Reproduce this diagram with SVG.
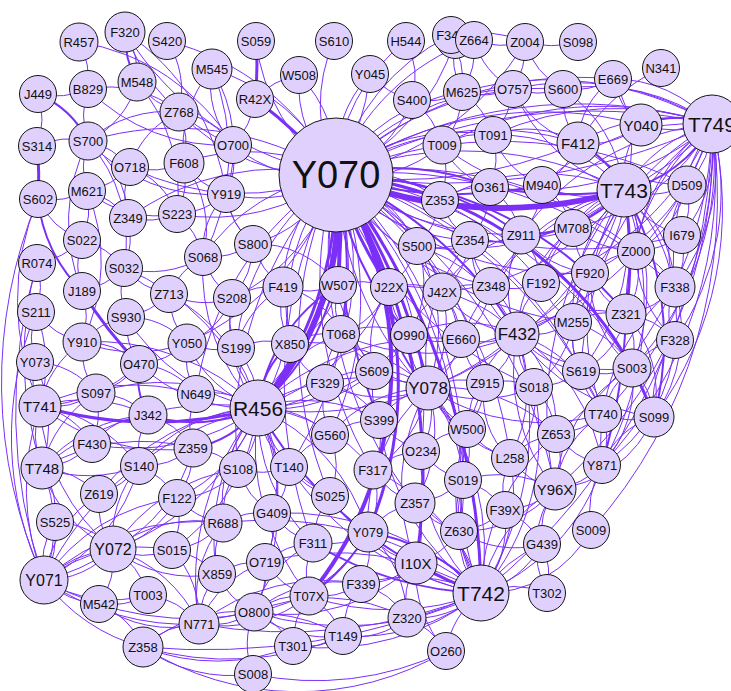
<svg xmlns="http://www.w3.org/2000/svg" width="731" height="691" viewBox="0 0 731 691">
<style>
#edges path{fill:none;stroke:#7B2FF7;stroke-width:1}
#edges .w2{stroke-width:2}
#edges .w3{stroke-width:3}
#edges .w4{stroke-width:4}
#edges .w6{stroke-width:6}
.node circle{fill:#E0D0FE;stroke:#151515;stroke-width:1}
.node text{font-family:"Liberation Sans",Arial,sans-serif;font-size:13px;text-anchor:middle;fill:#111}
.node.m text{font-size:15px}
.node.b text{font-size:17px}
.node.l text{font-size:21px}
.node.xl text{font-size:38px}
</style>
<rect width="731" height="691" fill="#fff"/>
<g id="edges">
<!-- heavy links -->
<path class="w6" d="M336 175A290 290 0 0 1 258 408"/>
<path class="w3" d="M336 175A360 360 0 0 1 258 408"/>
<path class="w2" d="M336 175A240 240 0 0 1 258 408"/>
<path class="w6" d="M336 175A430 430 0 0 0 624 190"/>
<path class="w4" d="M336 175A360 360 0 0 1 309 596"/>
<path class="w3" d="M336 175A380 380 0 0 1 368 532"/>
<path class="w3" d="M336 175A560 560 0 0 1 416 563"/>
<path class="w3" d="M336 175A600 600 0 0 1 428 388"/>
<path class="w3" d="M336 175A400 400 0 0 0 389 287"/>
<path class="w4" d="M336 175A600 600 0 0 1 338 285"/>
<path class="w3" d="M336 175A370 370 0 0 1 654 417"/>
<path class="w3" d="M336 175A700 700 0 0 1 481 593"/>
<path class="w3" d="M336 175A500 500 0 0 0 255 99"/>
<path class="w3" d="M256 41A300 300 0 0 1 255 99"/>
<path class="w3" d="M37 146A300 300 0 0 1 38 199"/>
<path class="w3" d="M82 291A400 400 0 0 0 139 364"/>
<path class="w2" d="M148 415A80 80 0 0 1 139 364"/>
<path class="w3" d="M40 406A400 400 0 0 0 258 408"/>
<path class="w2" d="M490 187A400 400 0 0 0 624 190"/>
<path class="w3" d="M624 190A400 400 0 0 1 626 314"/>
<path class="w2" d="M624 190A300 300 0 0 1 654 417"/>
<path class="w3" d="M416 563A300 300 0 0 0 481 593"/>
<path class="w2" d="M368 532A200 200 0 0 1 309 596"/>
<path class="w2" d="M258 408A400 400 0 0 0 481 593"/>
<path class="w2" d="M313 543A350 350 0 0 0 481 593"/>
<path class="w2" d="M626 314A600 600 0 0 1 602 465"/>
<path class="w2" d="M336 175A400 400 0 0 1 517 334"/>
<path class="w2" d="M336 175A300 300 0 0 1 521 235"/>
<path class="w2" d="M712 124A130 130 0 0 1 624 190"/>
<path class="w2" d="M712 124A100 100 0 0 0 641 125"/>
<path class="w2" d="M38 94A100 100 0 0 1 88 141"/>
<path class="w2" d="M125 32A100 100 0 0 0 137 82"/>
<path class="w2" d="M38 199A150 150 0 0 0 82 291"/>
<path class="w2" d="M336 175A250 250 0 0 1 490 187"/>
<path class="w2" d="M336 175A400 400 0 0 0 542 185"/>
<path class="w2" d="M336 175A380 380 0 0 1 626 314"/>
<path class="w2" d="M336 175A400 400 0 0 1 341 334"/>
<path class="w2" d="M336 175A300 300 0 0 0 409 335"/>
<path class="w2" d="M336 175A600 600 0 0 0 379 420"/>
<path class="w2" d="M624 190A100 100 0 0 0 578 143"/>
<path class="w2" d="M624 190A140 140 0 0 1 521 235"/>
<path class="w2" d="M258 408A150 150 0 0 1 148 415"/>
<path class="w2" d="M258 408A90 90 0 0 1 290 344"/>
<path class="w2" d="M258 408A100 100 0 0 1 193 448"/>
<path class="w2" d="M258 408A170 170 0 0 1 338 285"/>
<path class="w2" d="M481 593A200 200 0 0 0 368 532"/>
<path class="w2" d="M428 388A130 130 0 0 1 389 287"/>
<!-- hub Y070 -->
<path d="M336 175A160 160 0 0 1 334 41"/>
<path d="M336 175A130 130 0 0 0 299 75"/>
<path d="M336 175A130 130 0 0 1 299 75"/>
<path d="M336 175A130 130 0 0 1 370 74"/>
<path d="M336 175A250 250 0 0 0 370 74"/>
<path d="M336 175A180 180 0 0 1 406 41"/>
<path d="M336 175A220 220 0 0 1 449 36"/>
<path d="M336 175A220 220 0 0 0 455 40"/>
<path d="M336 175A230 230 0 0 1 474 40"/>
<path d="M336 175A180 180 0 0 1 462 92"/>
<path d="M336 175A130 130 0 0 0 412 100"/>
<path d="M336 175A130 130 0 0 1 233 145"/>
<path d="M336 175A200 200 0 0 0 212 69"/>
<path d="M336 175A200 200 0 0 1 179 112"/>
<path d="M336 175A180 180 0 0 0 184 163"/>
<path d="M336 175A140 140 0 0 1 226 194"/>
<path d="M336 175A190 190 0 0 0 203 257"/>
<path d="M336 175A130 130 0 0 1 253 244"/>
<path d="M336 175A130 130 0 0 0 442 145"/>
<path d="M336 175A200 200 0 0 1 493 135"/>
<path d="M336 175A240 240 0 0 1 513 89"/>
<path d="M336 175A290 290 0 0 1 563 89"/>
<path d="M336 175A290 290 0 0 1 578 143"/>
<path d="M336 175A450 450 0 0 0 578 143"/>
<path d="M336 175A370 370 0 0 1 641 125"/>
<path d="M336 175A450 450 0 0 1 712 124"/>
<path d="M336 175A650 650 0 0 0 712 124"/>
<path d="M336 175A550 550 0 0 1 712 124"/>
<path d="M336 175A350 350 0 0 1 624 190"/>
<path d="M336 175A420 420 0 0 1 687 185"/>
<path d="M336 175A130 130 0 0 1 440 200"/>
<path d="M336 175A290 290 0 0 0 573 228"/>
<path d="M336 175A180 180 0 0 0 470 240"/>
<path d="M336 175A130 130 0 0 1 417 246"/>
<path d="M336 175A370 370 0 0 1 636 251"/>
<path d="M336 175A420 420 0 0 0 682 235"/>
<path d="M336 175A330 330 0 0 0 590 273"/>
<path d="M336 175A430 430 0 0 1 675 287"/>
<path d="M336 175A280 280 0 0 1 541 283"/>
<path d="M336 175A230 230 0 0 0 491 286"/>
<path d="M336 175A190 190 0 0 1 442 292"/>
<path d="M336 175A150 150 0 0 0 283 287"/>
<path d="M336 175A190 190 0 0 1 232 298"/>
<path d="M336 175A210 210 0 0 0 290 344"/>
<path d="M336 175A250 250 0 0 1 461 339"/>
<path d="M336 175A330 330 0 0 0 573 322"/>
<path d="M336 175A420 420 0 0 1 632 368"/>
<path d="M336 175A240 240 0 0 0 374 371"/>
<path d="M336 175A250 250 0 0 1 325 383"/>
<path d="M336 175A310 310 0 0 1 485 383"/>
<path d="M336 175A340 340 0 0 0 467 429"/>
<path d="M336 175A430 430 0 0 1 603 414"/>
<path d="M336 175A350 350 0 0 1 421 451"/>
<path d="M336 175A360 360 0 0 0 373 470"/>
<path d="M336 175A400 400 0 0 0 415 503"/>
<path d="M336 175A400 400 0 0 1 463 480"/>
<path d="M336 175A450 450 0 0 0 313 543"/>
<path d="M336 175A320 320 0 0 1 330 435"/>
<path d="M336 175A390 390 0 0 0 330 496"/>
<path d="M336 175A460 460 0 0 1 555 489"/>
<path d="M336 175A450 450 0 0 1 459 531"/>
<path d="M336 175A240 240 0 0 0 236 348"/>
<path d="M336 175A270 270 0 0 1 187 343"/>
<path d="M336 175A310 310 0 0 0 196 394"/>
<path d="M336 175A200 200 0 0 1 177 214"/>
<path d="M336 175A260 260 0 0 0 128 218"/>
<path d="M336 175A250 250 0 0 1 130 167"/>
<path d="M336 175A300 300 0 0 0 88 141"/>
<path d="M336 175A310 310 0 0 1 125 32"/>
<path d="M336 175A260 260 0 0 0 167 41"/>
<path d="M336 175A190 190 0 0 1 256 41"/>
<path d="M336 175A350 350 0 0 1 613 79"/>
<path d="M336 175A280 280 0 0 0 525 42"/>
<path d="M336 175A360 360 0 0 1 289 467"/>
<path d="M336 175A370 370 0 0 0 238 469"/>
<path d="M336 175A400 400 0 0 1 510 458"/>
<path d="M336 175A350 350 0 0 0 534 387"/>
<path d="M336 175A380 380 0 0 1 581 371"/>
<!-- hub T749 -->
<path d="M712 124A120 120 0 0 1 641 125"/>
<path d="M712 124A150 150 0 0 0 624 190"/>
<path d="M712 124A250 250 0 0 1 624 190"/>
<path d="M712 124A170 170 0 0 0 578 143"/>
<path d="M712 124A130 130 0 0 0 613 79"/>
<path d="M712 124A200 200 0 0 0 563 89"/>
<path d="M712 124A260 260 0 0 0 513 89"/>
<path d="M712 124A300 300 0 0 0 493 135"/>
<path d="M712 124A350 350 0 0 0 442 145"/>
<path d="M712 124A320 320 0 0 0 462 92"/>
<path d="M712 124A90 90 0 0 1 687 185"/>
<path d="M712 124A180 180 0 0 0 636 251"/>
<path d="M712 124A140 140 0 0 1 682 235"/>
<path d="M712 124A200 200 0 0 1 675 287"/>
<path d="M712 124A250 250 0 0 0 675 287"/>
<path d="M712 124A260 260 0 0 1 675 340"/>
<path d="M712 124A240 240 0 0 0 626 314"/>
<path d="M712 124A300 300 0 0 1 632 368"/>
<path d="M712 124A350 350 0 0 1 654 417"/>
<path d="M712 124A420 420 0 0 1 602 465"/>
<path d="M712 124A450 450 0 0 1 555 489"/>
<path d="M712 124A380 380 0 0 1 603 414"/>
<path d="M712 124A500 500 0 0 1 591 530"/>
<path d="M712 124A600 600 0 0 1 481 593"/>
<path d="M712 124A220 220 0 0 0 542 185"/>
<path d="M712 124A280 280 0 0 1 490 187"/>
<path d="M712 124A210 210 0 0 1 573 228"/>
<path d="M712 124A260 260 0 0 0 521 235"/>
<path d="M712 124A230 230 0 0 1 590 273"/>
<path d="M712 124A280 280 0 0 0 573 322"/>
<path d="M712 124A330 330 0 0 1 517 334"/>
<path d="M712 124A320 320 0 0 0 581 371"/>
<path d="M712 124A400 400 0 0 1 556 434"/>
<path d="M712 124A280 280 0 0 1 541 283"/>
<!-- hub T743 -->
<path d="M624 190A100 100 0 0 1 542 185"/>
<path d="M624 190A90 90 0 0 1 641 125"/>
<path d="M624 190A80 80 0 0 0 687 185"/>
<path d="M624 190A80 80 0 0 1 636 251"/>
<path d="M624 190A90 90 0 0 0 682 235"/>
<path d="M624 190A110 110 0 0 1 590 273"/>
<path d="M624 190A80 80 0 0 0 573 228"/>
<path d="M624 190A170 170 0 0 0 493 135"/>
<path d="M624 190A220 220 0 0 1 442 145"/>
<path d="M624 190A210 210 0 0 0 440 200"/>
<path d="M624 190A190 190 0 0 1 470 240"/>
<path d="M624 190A150 150 0 0 0 541 283"/>
<path d="M624 190A130 130 0 0 1 675 287"/>
<path d="M624 190A180 180 0 0 1 675 340"/>
<path d="M624 190A220 220 0 0 1 632 368"/>
<path d="M624 190A170 170 0 0 0 573 322"/>
<path d="M624 190A220 220 0 0 1 517 334"/>
<path d="M624 190A200 200 0 0 0 491 286"/>
<path d="M624 190A250 250 0 0 1 442 292"/>
<path d="M624 190A260 260 0 0 0 461 339"/>
<path d="M624 190A220 220 0 0 1 581 371"/>
<path d="M624 190A260 260 0 0 0 603 414"/>
<path d="M624 190A330 330 0 0 1 602 465"/>
<path d="M624 190A140 140 0 0 0 563 89"/>
<path d="M624 190A180 180 0 0 1 513 89"/>
<path d="M624 190A130 130 0 0 0 613 79"/>
<path d="M624 190A260 260 0 0 1 417 246"/>
<path d="M624 190A330 330 0 0 1 428 388"/>
<path d="M624 190A360 360 0 0 0 555 489"/>
<!-- hub R456 -->
<path d="M258 408A80 80 0 0 0 196 394"/>
<path d="M258 408A120 120 0 0 1 187 343"/>
<path d="M258 408A90 90 0 0 0 236 348"/>
<path d="M258 408A150 150 0 0 0 283 287"/>
<path d="M258 408A140 140 0 0 1 232 298"/>
<path d="M258 408A180 180 0 0 0 169 294"/>
<path d="M258 408A200 200 0 0 1 203 257"/>
<path d="M258 408A230 230 0 0 0 82 342"/>
<path d="M258 408A160 160 0 0 1 139 364"/>
<path d="M258 408A200 200 0 0 0 96 393"/>
<path d="M258 408A160 160 0 0 0 139 466"/>
<path d="M258 408A210 210 0 0 1 92 444"/>
<path d="M258 408A270 270 0 0 0 42 468"/>
<path d="M258 408A80 80 0 0 1 238 469"/>
<path d="M258 408A90 90 0 0 0 289 467"/>
<path d="M258 408A100 100 0 0 1 330 435"/>
<path d="M258 408A90 90 0 0 0 325 383"/>
<path d="M258 408A140 140 0 0 1 341 334"/>
<path d="M258 408A150 150 0 0 0 374 371"/>
<path d="M258 408A220 220 0 0 0 389 287"/>
<path d="M258 408A200 200 0 0 1 428 388"/>
<path d="M258 408A160 160 0 0 1 373 470"/>
<path d="M258 408A140 140 0 0 0 330 496"/>
<path d="M258 408A130 130 0 0 1 272 513"/>
<path d="M258 408A150 150 0 0 0 223 523"/>
<path d="M258 408A150 150 0 0 1 177 498"/>
<path d="M258 408A220 220 0 0 0 99 494"/>
<path d="M258 408A240 240 0 0 1 113 549"/>
<path d="M258 408A320 320 0 0 0 44 580"/>
<path d="M258 408A200 200 0 0 1 172 550"/>
<path d="M258 408A210 210 0 0 0 217 574"/>
<path d="M258 408A190 190 0 0 1 265 562"/>
<path d="M258 408A180 180 0 0 0 313 543"/>
<path d="M258 408A200 200 0 0 1 368 532"/>
<path d="M258 408A240 240 0 0 0 309 596"/>
<path d="M258 408A250 250 0 0 1 254 612"/>
<path d="M258 408A270 270 0 0 0 199 624"/>
<path d="M258 408A150 150 0 0 1 379 420"/>
<path d="M258 408A200 200 0 0 0 409 335"/>
<path d="M258 408A260 260 0 0 1 461 339"/>
<path d="M258 408A320 320 0 0 0 517 334"/>
<path d="M258 408A200 200 0 0 1 126 317"/>
<path d="M258 408A240 240 0 0 0 124 268"/>
<!-- hub T742 -->
<path d="M481 593A250 250 0 0 1 309 596"/>
<path d="M481 593A170 170 0 0 0 361 584"/>
<path d="M481 593A100 100 0 0 1 407 618"/>
<path d="M481 593A90 90 0 0 0 446 651"/>
<path d="M481 593A200 200 0 0 1 343 636"/>
<path d="M481 593A250 250 0 0 1 293 646"/>
<path d="M481 593A90 90 0 0 1 459 531"/>
<path d="M481 593A140 140 0 0 0 415 503"/>
<path d="M481 593A140 140 0 0 1 463 480"/>
<path d="M481 593A110 110 0 0 0 505 510"/>
<path d="M481 593A150 150 0 0 1 555 489"/>
<path d="M481 593A100 100 0 0 0 542 544"/>
<path d="M481 593A150 150 0 0 1 542 544"/>
<path d="M481 593A90 90 0 0 1 547 593"/>
<path d="M591 530A120 120 0 0 1 481 593"/>
<path d="M481 593A170 170 0 0 0 510 458"/>
<path d="M481 593A200 200 0 0 1 467 429"/>
<path d="M481 593A260 260 0 0 0 428 388"/>
<path d="M481 593A180 180 0 0 1 421 451"/>
<path d="M481 593A200 200 0 0 0 373 470"/>
<path d="M481 593A220 220 0 0 1 330 496"/>
<path d="M481 593A280 280 0 0 0 272 513"/>
<path d="M481 593A290 290 0 0 1 289 467"/>
<path d="M481 593A280 280 0 0 0 265 562"/>
<path d="M481 593A300 300 0 0 1 254 612"/>
<path d="M481 593A700 700 0 0 1 143 647"/>
<path d="M481 593A200 200 0 0 0 602 465"/>
<path d="M481 593A210 210 0 0 1 556 434"/>
<path d="M481 593A240 240 0 0 0 534 387"/>
<path d="M481 593A260 260 0 0 1 485 383"/>
<path d="M481 593A320 320 0 0 0 517 334"/>
<path d="M481 593A250 250 0 0 1 379 420"/>
<path d="M481 593A350 350 0 0 0 223 523"/>
<path d="M481 593A500 500 0 0 1 199 624"/>
<!-- hub Y078 -->
<path d="M428 388A80 80 0 0 0 374 371"/>
<path d="M428 388A80 80 0 0 1 409 335"/>
<path d="M428 388A80 80 0 0 0 461 339"/>
<path d="M428 388A80 80 0 0 1 485 383"/>
<path d="M428 388A80 80 0 0 0 467 429"/>
<path d="M428 388A80 80 0 0 1 421 451"/>
<path d="M428 388A80 80 0 0 0 379 420"/>
<path d="M428 388A120 120 0 0 1 325 383"/>
<path d="M428 388A120 120 0 0 0 442 292"/>
<path d="M428 388A120 120 0 0 1 517 334"/>
<path d="M428 388A130 130 0 0 0 534 387"/>
<path d="M428 388A140 140 0 0 1 415 503"/>
<path d="M428 388A180 180 0 0 0 368 532"/>
<path d="M428 388A120 120 0 0 1 373 470"/>
<path d="M428 388A130 130 0 0 0 330 435"/>
<path d="M428 388A170 170 0 0 1 459 531"/>
<path d="M428 388A200 200 0 0 0 416 563"/>
<path d="M428 388A120 120 0 0 1 463 480"/>
<path d="M428 388A130 130 0 0 0 510 458"/>
<path d="M428 388A130 130 0 0 1 341 334"/>
<path d="M428 388A170 170 0 0 0 417 246"/>
<path d="M428 388A180 180 0 0 1 470 240"/>
<path d="M428 388A210 210 0 0 0 603 414"/>
<path d="M428 388A160 160 0 0 1 556 434"/>
<path d="M428 388A170 170 0 0 0 290 344"/>
<!-- hub F432 -->
<path d="M517 334A80 80 0 0 1 461 339"/>
<path d="M517 334A80 80 0 0 0 491 286"/>
<path d="M517 334A80 80 0 0 1 541 283"/>
<path d="M517 334A80 80 0 0 0 573 322"/>
<path d="M517 334A80 80 0 0 1 485 383"/>
<path d="M517 334A80 80 0 0 0 534 387"/>
<path d="M517 334A110 110 0 0 1 442 292"/>
<path d="M517 334A130 130 0 0 0 409 335"/>
<path d="M517 334A120 120 0 0 1 521 235"/>
<path d="M517 334A100 100 0 0 0 581 371"/>
<path d="M517 334A140 140 0 0 1 626 314"/>
<path d="M517 334A110 110 0 0 0 590 273"/>
<path d="M517 334A140 140 0 0 1 573 228"/>
<path d="M517 334A140 140 0 0 0 632 368"/>
<path d="M517 334A150 150 0 0 1 510 458"/>
<path d="M517 334A130 130 0 0 0 467 429"/>
<path d="M517 334A130 130 0 0 1 556 434"/>
<path d="M517 334A190 190 0 0 0 555 489"/>
<path d="M517 334A140 140 0 0 1 603 414"/>
<path d="M517 334A160 160 0 0 0 417 246"/>
<path d="M517 334A130 130 0 0 1 470 240"/>
<path d="M517 334A160 160 0 0 0 389 287"/>
<path d="M517 334A210 210 0 0 1 341 334"/>
<path d="M517 334A200 200 0 0 0 654 417"/>
<path d="M517 334A190 190 0 0 1 602 465"/>
<!-- left side -->
<path d="M40 406A60 60 0 0 1 35 362"/>
<path d="M40 406A80 80 0 0 0 96 393"/>
<path d="M40 406A80 80 0 0 1 92 444"/>
<path d="M40 406A90 90 0 0 0 42 468"/>
<path d="M40 406A150 150 0 0 0 36 312"/>
<path d="M40 406A100 100 0 0 1 82 342"/>
<path d="M40 406A150 150 0 0 1 148 415"/>
<path d="M40 406A200 200 0 0 0 193 448"/>
<path d="M40 406A150 150 0 0 1 139 466"/>
<path d="M40 406A250 250 0 0 0 44 580"/>
<path d="M40 406A200 200 0 0 0 113 549"/>
<path d="M40 406A220 220 0 0 1 196 394"/>
<path d="M40 406A150 150 0 0 0 139 364"/>
<path d="M42 468A80 80 0 0 0 92 444"/>
<path d="M42 468A90 90 0 0 1 99 494"/>
<path d="M42 468A80 80 0 0 1 55 522"/>
<path d="M42 468A150 150 0 0 1 44 580"/>
<path d="M42 468A140 140 0 0 0 139 466"/>
<path d="M42 468A130 130 0 0 0 113 549"/>
<path d="M42 468A150 150 0 0 1 148 415"/>
<path d="M42 468A200 200 0 0 1 193 448"/>
<path d="M42 468A150 150 0 0 0 35 362"/>
<path d="M42 468A120 120 0 0 1 96 393"/>
<path d="M44 580A90 90 0 0 0 113 549"/>
<path d="M44 580A120 120 0 0 1 113 549"/>
<path d="M44 580A200 200 0 0 0 113 549"/>
<path d="M44 580A80 80 0 0 1 55 522"/>
<path d="M44 580A100 100 0 0 0 55 522"/>
<path d="M44 580A90 90 0 0 0 99 604"/>
<path d="M44 580A180 180 0 0 0 143 647"/>
<path d="M44 580A300 300 0 0 0 254 612"/>
<path d="M44 580A250 250 0 0 0 199 624"/>
<path d="M44 580A120 120 0 0 1 99 494"/>
<path d="M44 580A160 160 0 0 1 172 550"/>
<path d="M44 580A130 130 0 0 0 148 595"/>
<path d="M44 580A190 190 0 0 1 177 498"/>
<path d="M44 580A230 230 0 0 1 223 523"/>
<path d="M44 580A180 180 0 0 0 139 466"/>
<path d="M37 263A520 520 0 0 0 44 580"/>
<path d="M37 263A350 350 0 0 0 42 468"/>
<path d="M38 199A260 260 0 0 0 40 406"/>
<path d="M36 312A330 330 0 0 0 44 580"/>
<path d="M38 199A480 480 0 0 0 44 580"/>
<path d="M113 549A80 80 0 0 1 99 494"/>
<path d="M113 549A80 80 0 0 0 172 550"/>
<path d="M113 549A80 80 0 0 0 55 522"/>
<path d="M113 549A80 80 0 0 1 148 595"/>
<path d="M113 549A100 100 0 0 0 177 498"/>
<path d="M113 549A110 110 0 0 1 139 466"/>
<path d="M113 549A130 130 0 0 0 217 574"/>
<path d="M113 549A140 140 0 0 1 199 624"/>
<path d="M113 549A80 80 0 0 1 99 604"/>
<path d="M113 549A140 140 0 0 1 223 523"/>
<path d="M113 549A160 160 0 0 0 193 448"/>
<path d="M113 549A180 180 0 0 1 238 469"/>
<path d="M99 604A80 80 0 0 0 148 595"/>
<path d="M99 604A80 80 0 0 1 143 647"/>
<path d="M99 604A120 120 0 0 0 199 624"/>
<path d="M143 647A80 80 0 0 1 199 624"/>
<path d="M143 647A150 150 0 0 1 254 612"/>
<path d="M143 647A200 200 0 0 0 293 646"/>
<path d="M143 647A290 290 0 0 0 446 651"/>
<path d="M143 647A150 150 0 0 0 253 674"/>
<path d="M143 647A300 300 0 0 0 343 636"/>
<path d="M199 624A80 80 0 0 0 254 612"/>
<path d="M199 624A80 80 0 0 1 217 574"/>
<path d="M199 624A80 80 0 0 0 148 595"/>
<path d="M199 624A120 120 0 0 1 223 523"/>
<path d="M199 624A100 100 0 0 0 172 550"/>
<path d="M199 624A110 110 0 0 1 265 562"/>
<path d="M199 624A140 140 0 0 0 309 596"/>
<path d="M199 624A170 170 0 0 1 343 636"/>
<path d="M199 624A200 200 0 0 1 361 584"/>
<path d="M254 612A80 80 0 0 1 309 596"/>
<path d="M254 612A80 80 0 0 0 253 674"/>
<path d="M254 612A80 80 0 0 1 293 646"/>
<path d="M254 612A80 80 0 0 0 265 562"/>
<path d="M254 612A110 110 0 0 1 313 543"/>
<path d="M254 612A80 80 0 0 1 217 574"/>
<path d="M254 612A120 120 0 0 0 343 636"/>
<path d="M254 612A160 160 0 0 0 368 532"/>
<path d="M254 612A130 130 0 0 1 361 584"/>
<path d="M254 612A180 180 0 0 1 407 618"/>
<path d="M254 612A190 190 0 0 0 416 563"/>
<path d="M293 646A80 80 0 0 0 343 636"/>
<path d="M293 646A80 80 0 0 1 309 596"/>
<path d="M343 636A80 80 0 0 1 361 584"/>
<path d="M343 636A80 80 0 0 0 407 618"/>
<path d="M343 636A80 80 0 0 0 309 596"/>
<path d="M407 618A80 80 0 0 1 416 563"/>
<path d="M407 618A80 80 0 0 0 361 584"/>
<path d="M407 618A80 80 0 0 1 446 651"/>
<path d="M407 618A120 120 0 0 0 368 532"/>
<path d="M446 651A300 300 0 0 1 253 674"/>
<path d="M446 651A120 120 0 0 1 416 563"/>
<!-- right side -->
<path d="M591 530A100 100 0 0 1 602 465"/>
<path d="M547 593A80 80 0 0 0 542 544"/>
<path d="M547 593A100 100 0 0 1 555 489"/>
<path d="M542 544A80 80 0 0 1 555 489"/>
<path d="M542 544A80 80 0 0 0 505 510"/>
<path d="M542 544A100 100 0 0 1 459 531"/>
<path d="M505 510A80 80 0 0 0 555 489"/>
<path d="M505 510A80 80 0 0 1 510 458"/>
<path d="M505 510A80 80 0 0 0 463 480"/>
<path d="M505 510A80 80 0 0 1 459 531"/>
<path d="M555 489A80 80 0 0 0 602 465"/>
<path d="M555 489A80 80 0 0 1 510 458"/>
<path d="M555 489A80 80 0 0 0 556 434"/>
<path d="M555 489A100 100 0 0 1 603 414"/>
<path d="M555 489A120 120 0 0 0 654 417"/>
<path d="M555 489A150 150 0 0 1 632 368"/>
<path d="M555 489A120 120 0 0 0 463 480"/>
<path d="M555 489A120 120 0 0 1 459 531"/>
<path d="M602 465A80 80 0 0 1 654 417"/>
<path d="M602 465A80 80 0 0 0 603 414"/>
<path d="M602 465A120 120 0 0 0 632 368"/>
<path d="M602 465A200 200 0 0 1 675 287"/>
<path d="M602 465A160 160 0 0 0 675 340"/>
<path d="M602 465A80 80 0 0 1 556 434"/>
<path d="M654 417A80 80 0 0 0 632 368"/>
<path d="M654 417A80 80 0 0 1 603 414"/>
<path d="M654 417A120 120 0 0 0 626 314"/>
<path d="M654 417A100 100 0 0 1 675 340"/>
<path d="M654 417A150 150 0 0 0 675 287"/>
<path d="M603 414A80 80 0 0 1 632 368"/>
<path d="M603 414A80 80 0 0 0 581 371"/>
<path d="M603 414A80 80 0 0 1 556 434"/>
<path d="M603 414A120 120 0 0 1 573 322"/>
<path d="M632 368A80 80 0 0 1 581 371"/>
<path d="M632 368A80 80 0 0 0 626 314"/>
<path d="M632 368A80 80 0 0 1 675 340"/>
<path d="M632 368A100 100 0 0 0 573 322"/>
<path d="M632 368A120 120 0 0 1 590 273"/>
<path d="M675 340A60 60 0 0 1 675 287"/>
<path d="M675 340A80 80 0 0 0 626 314"/>
<path d="M675 340A120 120 0 0 1 636 251"/>
<path d="M675 287A80 80 0 0 0 636 251"/>
<path d="M675 287A80 80 0 0 1 626 314"/>
<path d="M675 287A80 80 0 0 0 682 235"/>
<path d="M675 287A120 120 0 0 1 687 185"/>
<path d="M682 235A80 80 0 0 0 687 185"/>
<path d="M682 235A80 80 0 0 1 636 251"/>
<path d="M636 251A80 80 0 0 0 590 273"/>
<path d="M636 251A80 80 0 0 1 626 314"/>
<path d="M636 251A100 100 0 0 0 687 185"/>
<path d="M636 251A100 100 0 0 1 573 228"/>
<path d="M626 314A80 80 0 0 1 590 273"/>
<path d="M626 314A80 80 0 0 0 573 322"/>
<path d="M626 314A80 80 0 0 1 581 371"/>
<path d="M573 322A80 80 0 0 0 590 273"/>
<path d="M573 322A80 80 0 0 1 541 283"/>
<path d="M573 322A80 80 0 0 0 581 371"/>
<path d="M573 322A100 100 0 0 1 534 387"/>
<path d="M590 273A80 80 0 0 1 573 228"/>
<path d="M590 273A80 80 0 0 0 541 283"/>
<path d="M590 273A100 100 0 0 1 521 235"/>
<path d="M573 228A80 80 0 0 0 542 185"/>
<path d="M573 228A80 80 0 0 1 521 235"/>
<path d="M573 228A80 80 0 0 0 541 283"/>
<path d="M521 235A80 80 0 0 1 470 240"/>
<path d="M521 235A80 80 0 0 0 490 187"/>
<path d="M521 235A80 80 0 0 1 491 286"/>
<path d="M521 235A80 80 0 0 0 542 185"/>
<path d="M521 235A80 80 0 0 1 541 283"/>
<path d="M521 235A110 110 0 0 0 442 292"/>
<path d="M542 185A80 80 0 0 1 490 187"/>
<path d="M542 185A80 80 0 0 0 578 143"/>
<path d="M542 185A80 80 0 0 1 493 135"/>
<path d="M578 143A100 100 0 0 0 493 135"/>
<path d="M578 143A80 80 0 0 1 563 89"/>
<path d="M578 143A80 80 0 0 0 641 125"/>
<path d="M578 143A100 100 0 0 1 513 89"/>
<path d="M578 143A160 160 0 0 0 687 185"/>
<path d="M578 143A80 80 0 0 1 613 79"/>
<path d="M490 187A80 80 0 0 0 493 135"/>
<path d="M490 187A80 80 0 0 1 442 145"/>
<path d="M490 187A80 80 0 0 0 440 200"/>
<path d="M490 187A80 80 0 0 1 470 240"/>
<path d="M442 145A80 80 0 0 1 493 135"/>
<path d="M442 145A80 80 0 0 0 462 92"/>
<path d="M442 145A80 80 0 0 1 440 200"/>
<path d="M442 145A80 80 0 0 0 412 100"/>
<path d="M462 92A80 80 0 0 0 513 89"/>
<path d="M462 92A80 80 0 0 1 412 100"/>
<path d="M462 92A80 80 0 0 0 449 36"/>
<path d="M462 92A80 80 0 0 1 455 40"/>
<path d="M462 92A80 80 0 0 0 474 40"/>
<path d="M462 92A80 80 0 0 1 493 135"/>
<path d="M525 42A80 80 0 0 1 513 89"/>
<path d="M525 42A80 80 0 0 0 563 89"/>
<path d="M525 42A80 80 0 0 1 474 40"/>
<path d="M525 42A100 100 0 0 0 578 42"/>
<path d="M525 42A120 120 0 0 0 449 36"/>
<path d="M474 40A80 80 0 0 0 513 89"/>
<path d="M613 79A80 80 0 0 1 563 89"/>
<path d="M613 79A80 80 0 0 0 641 125"/>
<path d="M661 68A200 200 0 0 0 578 143"/>
<path d="M513 89A80 80 0 0 0 563 89"/>
<path d="M513 89A80 80 0 0 1 493 135"/>
<path d="M412 100A80 80 0 0 1 370 74"/>
<path d="M412 100A80 80 0 0 0 406 41"/>
<!-- centre -->
<path d="M440 200A80 80 0 0 0 470 240"/>
<path d="M440 200A80 80 0 0 1 417 246"/>
<path d="M417 246A80 80 0 0 0 470 240"/>
<path d="M417 246A80 80 0 0 1 389 287"/>
<path d="M417 246A80 80 0 0 0 442 292"/>
<path d="M417 246A100 100 0 0 1 409 335"/>
<path d="M470 240A80 80 0 0 1 442 292"/>
<path d="M470 240A80 80 0 0 0 491 286"/>
<path d="M389 287A80 80 0 0 0 338 285"/>
<path d="M389 287A80 80 0 0 1 442 292"/>
<path d="M389 287A80 80 0 0 0 409 335"/>
<path d="M389 287A80 80 0 0 1 341 334"/>
<path d="M389 287A100 100 0 0 0 374 371"/>
<path d="M442 292A80 80 0 0 1 461 339"/>
<path d="M442 292A80 80 0 0 0 409 335"/>
<path d="M442 292A80 80 0 0 1 491 286"/>
<path d="M491 286A80 80 0 0 0 541 283"/>
<path d="M491 286A80 80 0 0 1 461 339"/>
<path d="M338 285A80 80 0 0 1 283 287"/>
<path d="M338 285A80 80 0 0 0 341 334"/>
<path d="M338 285A80 80 0 0 1 290 344"/>
<path d="M338 285A100 100 0 0 0 253 244"/>
<path d="M283 287A80 80 0 0 0 232 298"/>
<path d="M283 287A80 80 0 0 1 253 244"/>
<path d="M283 287A80 80 0 0 0 290 344"/>
<path d="M283 287A80 80 0 0 1 341 334"/>
<path d="M283 287A100 100 0 0 0 236 348"/>
<path d="M232 298A80 80 0 0 1 203 257"/>
<path d="M232 298A80 80 0 0 0 236 348"/>
<path d="M232 298A80 80 0 0 1 169 294"/>
<path d="M232 298A80 80 0 0 0 253 244"/>
<path d="M232 298A80 80 0 0 1 187 343"/>
<path d="M203 257A80 80 0 0 0 169 294"/>
<path d="M203 257A100 100 0 0 1 124 268"/>
<path d="M203 257A80 80 0 0 0 253 244"/>
<path d="M203 257A80 80 0 0 1 226 194"/>
<path d="M203 257A80 80 0 0 0 177 214"/>
<path d="M253 244A80 80 0 0 1 226 194"/>
<path d="M290 344A80 80 0 0 0 236 348"/>
<path d="M290 344A80 80 0 0 1 341 334"/>
<path d="M290 344A80 80 0 0 0 325 383"/>
<path d="M341 334A80 80 0 0 1 409 335"/>
<path d="M341 334A80 80 0 0 0 325 383"/>
<path d="M341 334A80 80 0 0 1 374 371"/>
<path d="M409 335A80 80 0 0 0 461 339"/>
<path d="M409 335A80 80 0 0 1 374 371"/>
<path d="M461 339A80 80 0 0 0 485 383"/>
<path d="M325 383A80 80 0 0 1 374 371"/>
<path d="M325 383A80 80 0 0 0 330 435"/>
<path d="M325 383A80 80 0 0 1 379 420"/>
<path d="M374 371A80 80 0 0 0 379 420"/>
<path d="M330 435A80 80 0 0 1 379 420"/>
<path d="M330 435A80 80 0 0 0 289 467"/>
<path d="M330 435A80 80 0 0 1 330 496"/>
<path d="M379 420A80 80 0 0 0 421 451"/>
<path d="M379 420A80 80 0 0 1 373 470"/>
<path d="M421 451A80 80 0 0 1 467 429"/>
<path d="M421 451A80 80 0 0 0 373 470"/>
<path d="M421 451A80 80 0 0 1 415 503"/>
<path d="M421 451A80 80 0 0 0 463 480"/>
<path d="M467 429A80 80 0 0 0 485 383"/>
<path d="M467 429A80 80 0 0 1 463 480"/>
<path d="M467 429A80 80 0 0 0 510 458"/>
<path d="M485 383A80 80 0 0 1 534 387"/>
<path d="M485 383A80 80 0 0 0 510 458"/>
<path d="M534 387A80 80 0 0 1 556 434"/>
<path d="M534 387A80 80 0 0 0 581 371"/>
<path d="M534 387A80 80 0 0 1 510 458"/>
<path d="M556 434A80 80 0 0 0 510 458"/>
<path d="M463 480A80 80 0 0 1 415 503"/>
<path d="M463 480A80 80 0 0 0 459 531"/>
<path d="M415 503A80 80 0 0 0 368 532"/>
<path d="M415 503A80 80 0 0 1 416 563"/>
<path d="M415 503A80 80 0 0 0 459 531"/>
<path d="M415 503A80 80 0 0 1 373 470"/>
<path d="M368 532A80 80 0 0 1 313 543"/>
<path d="M368 532A80 80 0 0 0 416 563"/>
<path d="M368 532A80 80 0 0 1 361 584"/>
<path d="M368 532A80 80 0 0 0 373 470"/>
<path d="M368 532A80 80 0 0 1 330 496"/>
<path d="M416 563A80 80 0 0 1 361 584"/>
<path d="M416 563A80 80 0 0 0 459 531"/>
<path d="M313 543A80 80 0 0 0 309 596"/>
<path d="M313 543A80 80 0 0 1 272 513"/>
<path d="M313 543A80 80 0 0 0 265 562"/>
<path d="M313 543A80 80 0 0 1 330 496"/>
<path d="M309 596A80 80 0 0 1 265 562"/>
<path d="M309 596A80 80 0 0 0 361 584"/>
<path d="M272 513A80 80 0 0 0 289 467"/>
<path d="M272 513A80 80 0 0 1 238 469"/>
<path d="M272 513A80 80 0 0 0 223 523"/>
<path d="M272 513A80 80 0 0 1 265 562"/>
<path d="M289 467A80 80 0 0 1 238 469"/>
<path d="M289 467A80 80 0 0 0 330 496"/>
<path d="M238 469A80 80 0 0 0 193 448"/>
<path d="M238 469A80 80 0 0 1 177 498"/>
<path d="M238 469A80 80 0 0 0 223 523"/>
<path d="M223 523A80 80 0 0 1 177 498"/>
<path d="M223 523A80 80 0 0 0 217 574"/>
<path d="M223 523A80 80 0 0 1 172 550"/>
<path d="M217 574A80 80 0 0 0 172 550"/>
<path d="M217 574A80 80 0 0 1 265 562"/>
<path d="M177 498A80 80 0 0 0 139 466"/>
<path d="M177 498A80 80 0 0 1 172 550"/>
<path d="M177 498A80 80 0 0 0 193 448"/>
<path d="M139 466A80 80 0 0 1 99 494"/>
<path d="M139 466A80 80 0 0 0 193 448"/>
<path d="M139 466A80 80 0 0 1 148 415"/>
<path d="M193 448A80 80 0 0 0 148 415"/>
<path d="M193 448A80 80 0 0 1 196 394"/>
<path d="M196 394A80 80 0 0 0 139 364"/>
<path d="M196 394A80 80 0 0 1 187 343"/>
<path d="M148 415A80 80 0 0 0 96 393"/>
<path d="M148 415A80 80 0 0 0 92 444"/>
<path d="M96 393A80 80 0 0 1 82 342"/>
<path d="M96 393A80 80 0 0 0 139 364"/>
<path d="M96 393A80 80 0 0 1 92 444"/>
<path d="M139 364A80 80 0 0 0 82 342"/>
<path d="M139 364A80 80 0 0 1 126 317"/>
<path d="M139 364A80 80 0 0 0 187 343"/>
<path d="M82 342A80 80 0 0 1 126 317"/>
<path d="M82 342A80 80 0 0 0 82 291"/>
<path d="M82 342A80 80 0 0 1 36 312"/>
<path d="M82 342A150 150 0 0 0 187 343"/>
<path d="M187 343A80 80 0 0 0 236 348"/>
<path d="M187 343A80 80 0 0 1 169 294"/>
<path d="M187 343A80 80 0 0 0 126 317"/>
<path d="M126 317A80 80 0 0 1 124 268"/>
<path d="M126 317A80 80 0 0 0 169 294"/>
<path d="M124 268A80 80 0 0 0 82 240"/>
<path d="M124 268A80 80 0 0 1 82 291"/>
<path d="M124 268A80 80 0 0 0 169 294"/>
<path d="M82 291A80 80 0 0 1 82 240"/>
<path d="M82 240A80 80 0 0 0 87 191"/>
<path d="M82 240A80 80 0 0 1 38 199"/>
<path d="M37 263A80 80 0 0 1 36 312"/>
<path d="M37 263A80 80 0 0 0 82 240"/>
<path d="M36 312A80 80 0 0 0 35 362"/>
<path d="M35 362A80 80 0 0 1 96 393"/>
<path d="M38 199A80 80 0 0 0 87 191"/>
<path d="M37 146A80 80 0 0 1 88 141"/>
<path d="M37 146A80 80 0 0 0 38 94"/>
<!-- upper left -->
<path d="M79 42A80 80 0 0 1 88 89"/>
<path d="M79 42A220 220 0 0 1 233 145"/>
<path d="M38 94A80 80 0 0 0 88 89"/>
<path d="M125 32A80 80 0 0 1 137 82"/>
<path d="M125 32A230 230 0 0 1 226 194"/>
<path d="M125 32A190 190 0 0 0 233 145"/>
<path d="M167 41A90 90 0 0 1 179 112"/>
<path d="M88 89A80 80 0 0 0 88 141"/>
<path d="M88 89A110 110 0 0 1 179 112"/>
<path d="M88 89A190 190 0 0 0 233 145"/>
<path d="M137 82A90 90 0 0 1 88 141"/>
<path d="M137 82A80 80 0 0 0 179 112"/>
<path d="M137 82A170 170 0 0 1 177 214"/>
<path d="M212 69A90 90 0 0 0 233 145"/>
<path d="M212 69A150 150 0 0 1 226 194"/>
<path d="M212 69A120 120 0 0 0 184 163"/>
<path d="M212 69A220 220 0 0 1 203 257"/>
<path d="M179 112A90 90 0 0 0 130 167"/>
<path d="M179 112A80 80 0 0 1 184 163"/>
<path d="M179 112A120 120 0 0 0 88 141"/>
<path d="M179 112A80 80 0 0 1 233 145"/>
<path d="M88 141A80 80 0 0 1 130 167"/>
<path d="M88 141A80 80 0 0 0 87 191"/>
<path d="M88 141A100 100 0 0 1 128 218"/>
<path d="M88 141A170 170 0 0 0 226 194"/>
<path d="M88 141A150 150 0 0 1 124 268"/>
<path d="M88 141A180 180 0 0 0 82 291"/>
<path d="M130 167A80 80 0 0 0 184 163"/>
<path d="M130 167A80 80 0 0 1 87 191"/>
<path d="M130 167A80 80 0 0 0 128 218"/>
<path d="M130 167A80 80 0 0 1 177 214"/>
<path d="M87 191A110 110 0 0 0 177 214"/>
<path d="M87 191A80 80 0 0 1 128 218"/>
<path d="M87 191A180 180 0 0 1 82 342"/>
<path d="M184 163A80 80 0 0 1 177 214"/>
<path d="M184 163A80 80 0 0 0 226 194"/>
<path d="M184 163A110 110 0 0 1 203 257"/>
<path d="M128 218A80 80 0 0 0 177 214"/>
<path d="M128 218A80 80 0 0 1 124 268"/>
<path d="M226 194A80 80 0 0 1 177 214"/>
<path d="M226 194A80 80 0 0 0 253 244"/>
<path d="M233 145A80 80 0 0 1 226 194"/>
<path d="M233 145A80 80 0 0 0 255 99"/>
<path d="M255 99A80 80 0 0 1 299 75"/>
</g>
<g id="nodes">
<g id="n-R457" class="node"><circle cx="79" cy="42" r="19"/><text x="79" y="46.5">R457</text></g>
<g id="n-F320" class="node"><circle cx="125" cy="32" r="20"/><text x="125" y="36.5">F320</text></g>
<g id="n-S420" class="node"><circle cx="167" cy="41" r="18.5"/><text x="167" y="45.5">S420</text></g>
<g id="n-M545" class="node"><circle cx="212" cy="69" r="20"/><text x="212" y="73.5">M545</text></g>
<g id="n-S059" class="node"><circle cx="256" cy="41" r="18.5"/><text x="256" y="45.5">S059</text></g>
<g id="n-S610" class="node"><circle cx="334" cy="41" r="18.5"/><text x="334" y="45.5">S610</text></g>
<g id="n-H544" class="node"><circle cx="406" cy="41" r="18.5"/><text x="406" y="45.5">H544</text></g>
<g id="n-S421" class="node"><circle cx="455" cy="40" r="18.5"/><text x="455" y="44.5">S421</text></g>
<g id="n-F346" class="node"><circle cx="451" cy="35" r="18.5"/><text x="451" y="39.5">F346</text></g>
<g id="n-Z664" class="node"><circle cx="474" cy="40" r="18.5"/><text x="474" y="44.5">Z664</text></g>
<g id="n-Z004" class="node"><circle cx="525" cy="42" r="18.5"/><text x="525" y="46.5">Z004</text></g>
<g id="n-S098" class="node"><circle cx="578" cy="42" r="18.5"/><text x="578" y="46.5">S098</text></g>
<g id="n-N341" class="node"><circle cx="661" cy="68" r="18.5"/><text x="661" y="72.5">N341</text></g>
<g id="n-E669" class="node"><circle cx="613" cy="79" r="18.5"/><text x="613" y="83.5">E669</text></g>
<g id="n-O757" class="node"><circle cx="513" cy="89" r="18.5"/><text x="513" y="93.5">O757</text></g>
<g id="n-S600" class="node"><circle cx="563" cy="89" r="18.5"/><text x="563" y="93.5">S600</text></g>
<g id="n-M625" class="node"><circle cx="462" cy="92" r="18.5"/><text x="462" y="96.5">M625</text></g>
<g id="n-W508" class="node"><circle cx="299" cy="75" r="18.5"/><text x="299" y="79.5">W508</text></g>
<g id="n-Y045" class="node"><circle cx="370" cy="74" r="18.5"/><text x="370" y="78.5">Y045</text></g>
<g id="n-R42X" class="node"><circle cx="255" cy="99" r="18.5"/><text x="255" y="103.5">R42X</text></g>
<g id="n-S400" class="node"><circle cx="412" cy="100" r="18.5"/><text x="412" y="104.5">S400</text></g>
<g id="n-B829" class="node"><circle cx="88" cy="89" r="18.5"/><text x="88" y="93.5">B829</text></g>
<g id="n-M548" class="node"><circle cx="137" cy="82" r="19"/><text x="137" y="86.5">M548</text></g>
<g id="n-J449" class="node"><circle cx="38" cy="94" r="18.5"/><text x="38" y="98.5">J449</text></g>
<g id="n-Z768" class="node"><circle cx="179" cy="112" r="19"/><text x="179" y="116.5">Z768</text></g>
<g id="n-S700" class="node"><circle cx="88" cy="141" r="19"/><text x="88" y="145.5">S700</text></g>
<g id="n-S314" class="node"><circle cx="37" cy="146" r="18.5"/><text x="37" y="150.5">S314</text></g>
<g id="n-O700" class="node"><circle cx="233" cy="145" r="18.5"/><text x="233" y="149.5">O700</text></g>
<g id="n-O718" class="node"><circle cx="130" cy="167" r="18.5"/><text x="130" y="171.5">O718</text></g>
<g id="n-F608" class="node"><circle cx="184" cy="163" r="20"/><text x="184" y="167.5">F608</text></g>
<g id="n-M621" class="node"><circle cx="87" cy="191" r="18.5"/><text x="87" y="195.5">M621</text></g>
<g id="n-Y919" class="node"><circle cx="226" cy="194" r="18.5"/><text x="226" y="198.5">Y919</text></g>
<g id="n-S602" class="node"><circle cx="38" cy="199" r="18.5"/><text x="38" y="203.5">S602</text></g>
<g id="n-Z349" class="node"><circle cx="128" cy="218" r="18.5"/><text x="128" y="222.5">Z349</text></g>
<g id="n-S223" class="node"><circle cx="177" cy="214" r="18.5"/><text x="177" y="218.5">S223</text></g>
<g id="n-T009" class="node"><circle cx="442" cy="145" r="19"/><text x="442" y="149.5">T009</text></g>
<g id="n-T091" class="node"><circle cx="493" cy="135" r="18.5"/><text x="493" y="139.5">T091</text></g>
<g id="n-F412" class="node m"><circle cx="578" cy="143" r="21"/><text x="578" y="148.5">F412</text></g>
<g id="n-Y040" class="node m"><circle cx="641" cy="125" r="21"/><text x="641" y="130.5">Y040</text></g>
<g id="n-T749" class="node l"><circle cx="712" cy="124" r="29"/><text x="712" y="131.5">T749</text></g>
<g id="n-O361" class="node"><circle cx="490" cy="187" r="18.5"/><text x="490" y="191.5">O361</text></g>
<g id="n-M940" class="node"><circle cx="542" cy="185" r="18.5"/><text x="542" y="189.5">M940</text></g>
<g id="n-T743" class="node l"><circle cx="624" cy="190" r="27"/><text x="624" y="197.5">T743</text></g>
<g id="n-D509" class="node"><circle cx="687" cy="185" r="19"/><text x="687" y="189.5">D509</text></g>
<g id="n-Z353" class="node"><circle cx="440" cy="200" r="18.5"/><text x="440" y="204.5">Z353</text></g>
<g id="n-M708" class="node"><circle cx="573" cy="228" r="18.5"/><text x="573" y="232.5">M708</text></g>
<g id="n-Z911" class="node"><circle cx="521" cy="235" r="19"/><text x="521" y="239.5">Z911</text></g>
<g id="n-Z354" class="node"><circle cx="470" cy="240" r="18.5"/><text x="470" y="244.5">Z354</text></g>
<g id="n-S500" class="node"><circle cx="417" cy="246" r="18.5"/><text x="417" y="250.5">S500</text></g>
<g id="n-Z000" class="node"><circle cx="636" cy="251" r="18.5"/><text x="636" y="255.5">Z000</text></g>
<g id="n-I679" class="node"><circle cx="682" cy="235" r="18.5"/><text x="682" y="239.5">I679</text></g>
<g id="n-S022" class="node"><circle cx="82" cy="240" r="18.5"/><text x="82" y="244.5">S022</text></g>
<g id="n-S068" class="node"><circle cx="203" cy="257" r="18.5"/><text x="203" y="261.5">S068</text></g>
<g id="n-S800" class="node"><circle cx="253" cy="244" r="18.5"/><text x="253" y="248.5">S800</text></g>
<g id="n-S032" class="node"><circle cx="124" cy="268" r="18.5"/><text x="124" y="272.5">S032</text></g>
<g id="n-R074" class="node"><circle cx="37" cy="263" r="18.5"/><text x="37" y="267.5">R074</text></g>
<g id="n-F920" class="node"><circle cx="590" cy="273" r="18.5"/><text x="590" y="277.5">F920</text></g>
<g id="n-F338" class="node"><circle cx="675" cy="287" r="20"/><text x="675" y="292">F338</text></g>
<g id="n-J189" class="node"><circle cx="82" cy="291" r="18.5"/><text x="82" y="295.5">J189</text></g>
<g id="n-Z713" class="node"><circle cx="169" cy="294" r="18.5"/><text x="169" y="298.5">Z713</text></g>
<g id="n-S208" class="node"><circle cx="232" cy="298" r="18.5"/><text x="232" y="302.5">S208</text></g>
<g id="n-F419" class="node"><circle cx="283" cy="287" r="20"/><text x="283" y="292">F419</text></g>
<g id="n-W507" class="node"><circle cx="338" cy="285" r="18.5"/><text x="338" y="289.5">W507</text></g>
<g id="n-J22X" class="node"><circle cx="389" cy="287" r="18.5"/><text x="389" y="291.5">J22X</text></g>
<g id="n-J42X" class="node"><circle cx="442" cy="292" r="19"/><text x="442" y="296.5">J42X</text></g>
<g id="n-Z348" class="node"><circle cx="491" cy="286" r="18.5"/><text x="491" y="290.5">Z348</text></g>
<g id="n-F192" class="node"><circle cx="541" cy="283" r="18.5"/><text x="541" y="287.5">F192</text></g>
<g id="n-Z321" class="node"><circle cx="626" cy="314" r="20"/><text x="626" y="319">Z321</text></g>
<g id="n-S930" class="node"><circle cx="126" cy="317" r="18.5"/><text x="126" y="321.5">S930</text></g>
<g id="n-S211" class="node"><circle cx="36" cy="312" r="18.5"/><text x="36" y="316.5">S211</text></g>
<g id="n-Y910" class="node"><circle cx="82" cy="342" r="19"/><text x="82" y="346.5">Y910</text></g>
<g id="n-Y050" class="node"><circle cx="187" cy="343" r="19"/><text x="187" y="347.5">Y050</text></g>
<g id="n-S199" class="node"><circle cx="236" cy="348" r="18.5"/><text x="236" y="352.5">S199</text></g>
<g id="n-X850" class="node"><circle cx="290" cy="344" r="18.5"/><text x="290" y="348.5">X850</text></g>
<g id="n-T068" class="node"><circle cx="341" cy="334" r="18.5"/><text x="341" y="338.5">T068</text></g>
<g id="n-O990" class="node"><circle cx="409" cy="335" r="18.5"/><text x="409" y="339.5">O990</text></g>
<g id="n-E660" class="node"><circle cx="461" cy="339" r="18.5"/><text x="461" y="343.5">E660</text></g>
<g id="n-F432" class="node b"><circle cx="517" cy="334" r="22"/><text x="517" y="340">F432</text></g>
<g id="n-M255" class="node"><circle cx="573" cy="322" r="18.5"/><text x="573" y="326.5">M255</text></g>
<g id="n-F328" class="node"><circle cx="675" cy="340" r="18.5"/><text x="675" y="344.5">F328</text></g>
<g id="n-Y073" class="node"><circle cx="35" cy="362" r="18.5"/><text x="35" y="366.5">Y073</text></g>
<g id="n-O470" class="node"><circle cx="139" cy="364" r="18.5"/><text x="139" y="368.5">O470</text></g>
<g id="n-N649" class="node"><circle cx="196" cy="394" r="18.5"/><text x="196" y="398.5">N649</text></g>
<g id="n-S097" class="node"><circle cx="96" cy="393" r="19"/><text x="96" y="397.5">S097</text></g>
<g id="n-J342" class="node"><circle cx="148" cy="415" r="19"/><text x="148" y="419.5">J342</text></g>
<g id="n-R456" class="node l"><circle cx="258" cy="408" r="28"/><text x="258" y="415.5">R456</text></g>
<g id="n-F329" class="node"><circle cx="325" cy="383" r="18.5"/><text x="325" y="387.5">F329</text></g>
<g id="n-S609" class="node"><circle cx="374" cy="371" r="18.5"/><text x="374" y="375.5">S609</text></g>
<g id="n-Y078" class="node b"><circle cx="428" cy="388" r="22"/><text x="428" y="394">Y078</text></g>
<g id="n-Z915" class="node"><circle cx="485" cy="383" r="18.5"/><text x="485" y="387.5">Z915</text></g>
<g id="n-S018" class="node"><circle cx="534" cy="387" r="18.5"/><text x="534" y="391.5">S018</text></g>
<g id="n-S619" class="node"><circle cx="581" cy="371" r="18.5"/><text x="581" y="375.5">S619</text></g>
<g id="n-S003" class="node"><circle cx="632" cy="368" r="19"/><text x="632" y="372.5">S003</text></g>
<g id="n-T741" class="node m"><circle cx="40" cy="406" r="21"/><text x="40" y="411.5">T741</text></g>
<g id="n-F430" class="node"><circle cx="92" cy="444" r="18.5"/><text x="92" y="448.5">F430</text></g>
<g id="n-Z359" class="node"><circle cx="193" cy="448" r="19"/><text x="193" y="452.5">Z359</text></g>
<g id="n-G560" class="node"><circle cx="330" cy="435" r="18.5"/><text x="330" y="439.5">G560</text></g>
<g id="n-S399" class="node"><circle cx="379" cy="420" r="18.5"/><text x="379" y="424.5">S399</text></g>
<g id="n-W500" class="node"><circle cx="467" cy="429" r="18.5"/><text x="467" y="433.5">W500</text></g>
<g id="n-O234" class="node"><circle cx="421" cy="451" r="18.5"/><text x="421" y="455.5">O234</text></g>
<g id="n-Z653" class="node"><circle cx="556" cy="434" r="18.5"/><text x="556" y="438.5">Z653</text></g>
<g id="n-T740" class="node"><circle cx="603" cy="414" r="18.5"/><text x="603" y="418.5">T740</text></g>
<g id="n-S099" class="node"><circle cx="654" cy="417" r="20"/><text x="654" y="421.5">S099</text></g>
<g id="n-T748" class="node m"><circle cx="42" cy="468" r="21"/><text x="42" y="473.5">T748</text></g>
<g id="n-S140" class="node"><circle cx="139" cy="466" r="18.5"/><text x="139" y="470.5">S140</text></g>
<g id="n-S108" class="node"><circle cx="238" cy="469" r="18.5"/><text x="238" y="473.5">S108</text></g>
<g id="n-T140" class="node"><circle cx="289" cy="467" r="18.5"/><text x="289" y="471.5">T140</text></g>
<g id="n-F317" class="node"><circle cx="373" cy="470" r="19"/><text x="373" y="474.5">F317</text></g>
<g id="n-S019" class="node"><circle cx="463" cy="480" r="18.5"/><text x="463" y="484.5">S019</text></g>
<g id="n-L258" class="node"><circle cx="510" cy="458" r="18.5"/><text x="510" y="462.5">L258</text></g>
<g id="n-Y871" class="node"><circle cx="602" cy="465" r="18.5"/><text x="602" y="469.5">Y871</text></g>
<g id="n-Z619" class="node"><circle cx="99" cy="494" r="18.5"/><text x="99" y="498.5">Z619</text></g>
<g id="n-F122" class="node"><circle cx="177" cy="498" r="18.5"/><text x="177" y="502.5">F122</text></g>
<g id="n-R688" class="node"><circle cx="223" cy="523" r="19"/><text x="223" y="527.5">R688</text></g>
<g id="n-S025" class="node"><circle cx="330" cy="496" r="18.5"/><text x="330" y="500.5">S025</text></g>
<g id="n-Z357" class="node"><circle cx="415" cy="503" r="20"/><text x="415" y="507.5">Z357</text></g>
<g id="n-Y96X" class="node m"><circle cx="555" cy="489" r="21"/><text x="555" y="494.5">Y96X</text></g>
<g id="n-F39X" class="node"><circle cx="505" cy="510" r="18.5"/><text x="505" y="514.5">F39X</text></g>
<g id="n-G409" class="node"><circle cx="272" cy="513" r="18.5"/><text x="272" y="517.5">G409</text></g>
<g id="n-S525" class="node"><circle cx="55" cy="522" r="18.5"/><text x="55" y="526.5">S525</text></g>
<g id="n-Y072" class="node m"><circle cx="113" cy="549" r="23"/><text x="113" y="554.5" style="font-size:16px">Y072</text></g>
<g id="n-S015" class="node"><circle cx="172" cy="550" r="18.5"/><text x="172" y="554.5">S015</text></g>
<g id="n-F311" class="node"><circle cx="313" cy="543" r="19"/><text x="313" y="547.5">F311</text></g>
<g id="n-Y079" class="node"><circle cx="368" cy="532" r="20"/><text x="368" y="537">Y079</text></g>
<g id="n-Z630" class="node"><circle cx="459" cy="531" r="18.5"/><text x="459" y="535.5">Z630</text></g>
<g id="n-G439" class="node"><circle cx="542" cy="544" r="18.5"/><text x="542" y="548.5">G439</text></g>
<g id="n-S009" class="node"><circle cx="591" cy="530" r="18.5"/><text x="591" y="534.5">S009</text></g>
<g id="n-I10X" class="node m"><circle cx="416" cy="563" r="21"/><text x="416" y="568.5">I10X</text></g>
<g id="n-X859" class="node"><circle cx="217" cy="574" r="18.5"/><text x="217" y="578.5">X859</text></g>
<g id="n-O719" class="node"><circle cx="265" cy="562" r="18.5"/><text x="265" y="566.5">O719</text></g>
<g id="n-Y071" class="node m"><circle cx="44" cy="580" r="24"/><text x="44" y="585.5" style="font-size:16px">Y071</text></g>
<g id="n-T003" class="node"><circle cx="148" cy="595" r="18.5"/><text x="148" y="599.5">T003</text></g>
<g id="n-M542" class="node"><circle cx="99" cy="604" r="18.5"/><text x="99" y="608.5">M542</text></g>
<g id="n-N771" class="node"><circle cx="199" cy="624" r="20"/><text x="199" y="628.5">N771</text></g>
<g id="n-O800" class="node"><circle cx="254" cy="612" r="19"/><text x="254" y="616.5">O800</text></g>
<g id="n-T07X" class="node"><circle cx="309" cy="596" r="19"/><text x="309" y="600.5">T07X</text></g>
<g id="n-F339" class="node"><circle cx="361" cy="584" r="18.5"/><text x="361" y="588.5">F339</text></g>
<g id="n-T742" class="node l"><circle cx="481" cy="593" r="28"/><text x="481" y="600.5">T742</text></g>
<g id="n-T302" class="node"><circle cx="547" cy="593" r="18.5"/><text x="547" y="597.5">T302</text></g>
<g id="n-Z320" class="node"><circle cx="407" cy="618" r="19"/><text x="407" y="622.5">Z320</text></g>
<g id="n-T149" class="node"><circle cx="343" cy="636" r="18.5"/><text x="343" y="640.5">T149</text></g>
<g id="n-T301" class="node"><circle cx="293" cy="646" r="18.5"/><text x="293" y="650.5">T301</text></g>
<g id="n-O260" class="node"><circle cx="446" cy="651" r="18.5"/><text x="446" y="655.5">O260</text></g>
<g id="n-Z358" class="node"><circle cx="143" cy="647" r="20"/><text x="143" y="651.5">Z358</text></g>
<g id="n-S008" class="node"><circle cx="253" cy="674" r="18.5"/><text x="253" y="678.5">S008</text></g>
<g id="n-Y070" class="node xl"><circle cx="336" cy="175" r="57"/><text x="336" y="188">Y070</text></g>
</g>
</svg>
